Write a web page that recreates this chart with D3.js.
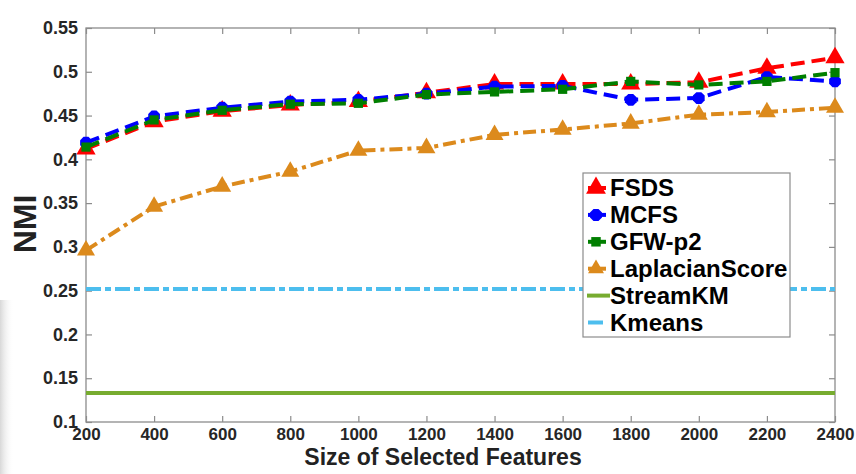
<!DOCTYPE html>
<html>
<head>
<meta charset="utf-8">
<script src="https://cdn.jsdelivr.net/npm/d3@7"></script>
<style>
  body { margin: 0; background: #fff; }
  svg text { font-family: "Liberation Sans", Arial, sans-serif; font-weight: bold; }
</style>
</head>
<body>
<div id="chart"></div>
<script>
var sizes = [200, 400, 600, 800, 1000, 1200, 1400, 1600, 1800, 2000, 2200, 2400];
var fsds = [0.412, 0.443, 0.455, 0.462, 0.466, 0.476, 0.486, 0.486, 0.486, 0.488, 0.504, 0.516];
var mcfs = [0.419, 0.449, 0.459, 0.466, 0.468, 0.475, 0.483, 0.484, 0.468, 0.470, 0.494, 0.489];
var gfw = [0.414, 0.445, 0.456, 0.463, 0.464, 0.474, 0.477, 0.480, 0.489, 0.485, 0.489, 0.499];
var laplacian = [0.296, 0.346, 0.369, 0.386, 0.410, 0.413, 0.428, 0.434, 0.441, 0.451, 0.454, 0.459];
var streamKM = 0.133;
var kmeans = 0.252;
var xTicks = [200, 400, 600, 800, 1000, 1200, 1400, 1600, 1800, 2000, 2200, 2400];
var yTicks = [0.1, 0.15, 0.2, 0.25, 0.3, 0.35, 0.4, 0.45, 0.5, 0.55];

var W = 856, H = 474,
    margin = {top: 28, right: 21, bottom: 52, left: 86},
    width = W - margin.left - margin.right,
    height = H - margin.top - margin.bottom;

var svg = d3.select("#chart").append("svg")
    .attr("width", W)
    .attr("height", H);

// faint scan shadow on the left edge
var grad = svg.append("defs").append("linearGradient")
    .attr("id", "shade").attr("x1", 0).attr("x2", 1).attr("y1", 0).attr("y2", 0);
grad.append("stop").attr("offset", "0%").attr("stop-color", "#d8d8d8");
grad.append("stop").attr("offset", "100%").attr("stop-color", "#fff").attr("stop-opacity", 0);
svg.append("rect")
    .attr("x", 0).attr("y", 300).attr("width", 14).attr("height", 174)
    .attr("fill", "url(#shade)");

var g = svg.append("g")
    .attr("transform", "translate(" + margin.left + "," + margin.top + ")");

var x = d3.scaleLinear().domain([200, 2400]).range([0, width]);
var y = d3.scaleLinear().domain([0.1, 0.55]).range([height, 0]);

var axisColor = "#8c8c8c";

function styleAxis(sel, showLabels, fs) {
  sel.select(".domain").remove();
  sel.selectAll(".tick line").attr("stroke", axisColor).attr("stroke-width", 1.2);
  sel.selectAll(".tick text")
    .attr("fill", "#262626")
    .style("font-size", (fs || 17) + "px")
    .style("display", showLabels ? null : "none");
}

g.append("g")
    .attr("transform", "translate(0," + height + ")")
    .call(d3.axisBottom(x).tickValues(xTicks).tickSize(-6).tickPadding(6).tickFormat(d3.format("d")))
    .call(styleAxis, true, 17);

g.append("g")
    .call(d3.axisTop(x).tickValues(xTicks).tickSize(-6))
    .call(styleAxis, false);

g.append("g")
    .call(d3.axisLeft(y).tickValues(yTicks).tickSize(-6).tickPadding(8).tickFormat(d3.format("")))
    .call(styleAxis, true, 18);

g.append("g")
    .attr("transform", "translate(" + width + ",0)")
    .call(d3.axisRight(y).tickValues(yTicks).tickSize(-6))
    .call(styleAxis, false);

g.append("rect")
    .attr("width", width).attr("height", height)
    .attr("fill", "none")
    .attr("stroke", axisColor)
    .attr("stroke-width", 1.3);

// horizontal baselines
g.append("line")
    .attr("x1", x(200)).attr("x2", x(2400))
    .attr("y1", y(streamKM)).attr("y2", y(streamKM))
    .attr("stroke", "#77ac30").attr("stroke-width", 4);

g.append("line")
    .attr("x1", x(200)).attr("x2", x(2400))
    .attr("y1", y(kmeans)).attr("y2", y(kmeans))
    .attr("stroke", "#4dbeee").attr("stroke-width", 4)
    .attr("stroke-dasharray", "15,4,6,4");

var line = d3.line()
    .x(function (d, i) { return x(sizes[i]); })
    .y(function (d) { return y(d); });

var series = [
  {name: "LaplacianScore", values: laplacian, color: "#dc8a1c", dash: "13,5,4,5", marker: "triangle", size: 140},
  {name: "FSDS", values: fsds, color: "#ff0000", dash: "14,7", marker: "triangle", size: 160},
  {name: "MCFS", values: mcfs, color: "#0000ff", dash: "14,7", marker: "octagon", size: 115},
  {name: "GFW-p2", values: gfw, color: "#007f00", dash: "14,7", marker: "square", size: 85}
];

function markerPath(type, size) {
  if (type === "triangle") return d3.symbol().type(d3.symbolTriangle).size(size)();
  if (type === "square") return d3.symbol().type(d3.symbolSquare).size(size)();
  // octagon-ish marker
  var r = Math.sqrt(size / Math.PI) * 1.05, pts = [];
  for (var k = 0; k < 8; k++) {
    var a = Math.PI / 8 + k * Math.PI / 4;
    pts.push([r * Math.cos(a), r * Math.sin(a)]);
  }
  return "M" + pts.join("L") + "Z";
}

series.forEach(function (s) {
  g.append("path")
    .datum(s.values)
    .attr("d", line)
    .attr("fill", "none")
    .attr("stroke", s.color)
    .attr("stroke-width", 4)
    .attr("stroke-dasharray", s.dash);

  g.selectAll("path.m-" + s.name)
    .data(s.values)
    .enter()
      .append("path")
      .attr("class", "m-" + s.name)
      .attr("d", markerPath(s.marker, s.size))
      .attr("transform", function (d, i) { return "translate(" + x(sizes[i]) + "," + y(d) + ")"; })
      .attr("fill", s.color);
});

// axis titles
svg.append("text")
    .attr("x", 443)
    .attr("y", 465)
    .attr("text-anchor", "middle")
    .attr("fill", "#222")
    .style("font-size", "23px")
    .text("Size of Selected Features");

svg.append("text")
    .attr("transform", "translate(36,224) rotate(-90)")
    .attr("text-anchor", "middle")
    .attr("fill", "#222")
    .style("font-size", "32px")
    .text("NMI");

// legend
var legend = svg.append("g").attr("transform", "translate(583,173)");
legend.append("rect")
    .attr("width", 207).attr("height", 164)
    .attr("fill", "#fff")
    .attr("stroke", "#8c8c8c")
    .attr("stroke-width", 1.2);

var legendItems = [
  {name: "FSDS", color: "#ff0000", marker: "triangle", size: 170},
  {name: "MCFS", color: "#0000ff", marker: "octagon", size: 120},
  {name: "GFW-p2", color: "#007f00", marker: "square", size: 90},
  {name: "LaplacianScore", color: "#dc8a1c", marker: "triangle", size: 110},
  {name: "StreamKM", color: "#77ac30", marker: null},
  {name: "Kmeans", color: "#4dbeee", marker: null}
];

var rowH = 26.9;
legendItems.forEach(function (d, i) {
  var cy = 15 + i * rowH;
  if (d.marker) {
    legend.append("line")
      .attr("x1", 5).attr("x2", 23).attr("y1", cy).attr("y2", cy)
      .attr("stroke", d.color).attr("stroke-width", 4);
    legend.append("path")
      .attr("d", markerPath(d.marker, d.size))
      .attr("transform", "translate(13," + cy + ")")
      .attr("fill", d.color);
  } else if (d.name === "StreamKM") {
    legend.append("line")
      .attr("x1", 4).attr("x2", 27).attr("y1", cy).attr("y2", cy)
      .attr("stroke", d.color).attr("stroke-width", 4);
  } else {
    legend.append("line")
      .attr("x1", 5).attr("x2", 20).attr("y1", cy).attr("y2", cy)
      .attr("stroke", d.color).attr("stroke-width", 4);
  }
  legend.append("text")
    .attr("x", 27)
    .attr("y", cy + 8)
    .attr("fill", "#000")
    .style("font-size", "24px")
    .text(d.name);
});
</script>
</body>
</html>
